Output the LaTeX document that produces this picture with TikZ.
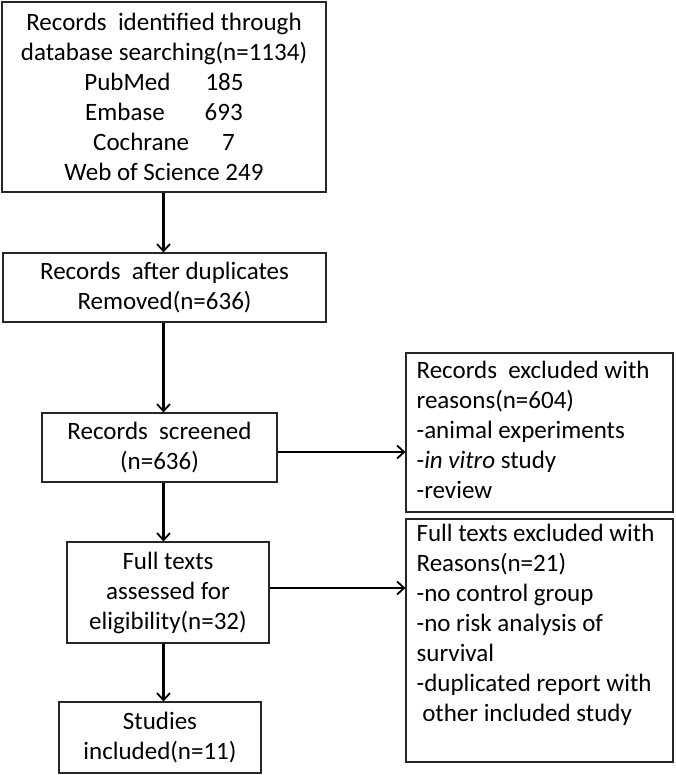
\documentclass[tikz,border=0pt]{standalone}
\usepackage{fontspec}
\setmainfont{Carlito}
\usetikzlibrary{arrows.meta,calc}
\begin{document}
\begin{tikzpicture}[x=1pt,y=-1pt,
  box/.style={draw=black!85,line width=1.2pt,inner sep=0pt,align=center,
    font=\fontsize{25}{30}\selectfont},
  lbox/.style={draw=black!85,line width=1.2pt,inner sep=0pt},
  ltext/.style={anchor=north west,inner sep=0pt,align=left,
    font=\fontsize{25}{30}\selectfont},
  arr/.style={line width=2.2pt,-{Straight Barb[length=7pt,width=13pt,line width=1.8pt]}}]
\useasboundingbox (0,0) rectangle (675,775);
\node[box,minimum width=324pt,minimum height=190pt] (b1) at (164,97)
  {Records\ \ identified through\\ database searching(n=1134)\\
   PubMed\hspace{35pt}185\\ Embase\hspace{40pt}693\\ Cochrane\hspace{33pt}7\\
   Web of Science 249};
\node[box,minimum width=323pt,minimum height=69pt] (b2) at (164.5,287.5)
  {Records\ \ after duplicates\\ Removed(n=636)};
\node[box,minimum width=235pt,minimum height=69pt] (b3) at (159.5,447.5)
  {Records\ \ screened\\ (n=636)};
\node[box,minimum width=202pt,minimum height=101pt] (b4) at (168,592.5)
  {Full texts\\ assessed for\\ eligibility(n=32)};
\node[box,minimum width=202pt,minimum height=71pt] (b5) at (160,737.5)
  {Studies\\ included(n=11)};
\node[lbox,minimum width=267pt,minimum height=159pt] (e1) at (539.5,432.5) {};
\node[lbox,minimum width=267pt,minimum height=243pt] (e2) at (539.5,640.5) {};
\node[ltext] (t1) at ($(e1.north west)+(11,9)$)
  {Records\ \ excluded with\\ reasons(n=604)\\ -animal experiments\\
   -\textit{in vitro} study\\ -review};
\node[ltext] (t2) at ($(e2.north west)+(11,6)$)
  {Full texts excluded with\\ Reasons(n=21)\\ -no control group\\
   -no risk analysis of\\ survival\\ -duplicated report with\\ \ other included study};
\coordinate (c1) at (163.5,0);
\draw[arr] (b1.south -| c1) -- (b2.north -| c1);
\draw[arr] (b2.south -| c1) -- (b3.north -| c1);
\draw[arr] (b3.south -| c1) -- (b4.north -| c1);
\draw[arr] (b4.south -| c1) -- (b5.north -| c1);
\coordinate (r1) at (0,452);
\coordinate (r2) at (0,588);
\draw[arr] (b3.east |- r1) -- (e1.west |- r1);
\draw[arr] (b4.east |- r2) -- (e2.west |- r2);
\end{tikzpicture}
\end{document}
